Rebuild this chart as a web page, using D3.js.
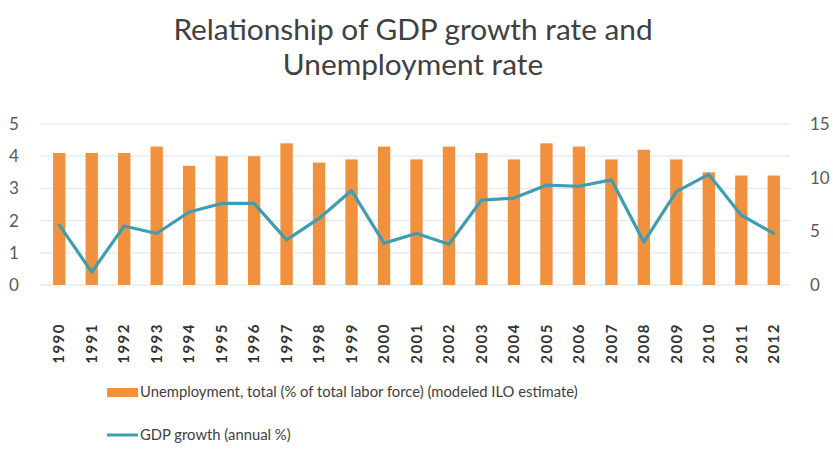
<!DOCTYPE html>
<html>
<head>
<meta charset="utf-8">
<script src="https://cdn.jsdelivr.net/npm/d3@7/dist/d3.min.js"></script>
<style>
  html, body { margin: 0; padding: 0; background: #fff; }
  svg { display: block; }
</style>
</head>
<body>
<script>
// Years on the category axis
const years = ["1990","1991","1992","1993","1994","1995","1996","1997","1998","1999","2000",
  "2001","2002","2003","2004","2005","2006","2007","2008","2009","2010","2011","2012"];
// Unemployment, total (% of total labor force) — left axis
const unemployment = [4.1,4.1,4.1,4.3,3.7,4.0,4.0,4.4,3.8,3.9,4.3,
  3.9,4.3,4.1,3.9,4.4,4.3,3.9,4.2,3.9,3.5,3.4,3.4];
// GDP growth (annual %) — right axis
const gdpGrowth = [5.6,1.2,5.5,4.8,6.8,7.6,7.6,4.2,6.2,8.8,3.9,
  4.8,3.8,7.9,8.1,9.3,9.2,9.8,4.0,8.7,10.3,6.5,4.8];
const leftTicks = [0,1,2,3,4,5];
const rightTicks = [0,5,10,15];
const titleLines = ["Relationship of GDP growth rate and", "Unemployment rate"];
const legendLabels = ["Unemployment, total (% of total labor force) (modeled ILO estimate)", "GDP growth (annual %)"];

const W = 833, H = 450;
const plot = { left: 43, right: 790, top: 124, bottom: 285 };
const barColor = "#F2913D", lineColor = "#3E9DB3", textColor = "#595959";
const font = "Lato, 'Open Sans', sans-serif";

const svg = d3.select("body").append("svg").attr("width", W).attr("height", H);

const x = d3.scaleBand().domain(years).range([plot.left, plot.right]).paddingInner(0.62).paddingOuter(0.31);
const yL = d3.scaleLinear().domain([0, 5]).range([plot.bottom, plot.top]);
const yR = d3.scaleLinear().domain([0, 15]).range([plot.bottom, plot.top]);

// Title
svg.append("g").selectAll("text").data(titleLines).join("text")
  .attr("x", 413).attr("y", (d, i) => 40 + i * 35)
  .attr("text-anchor", "middle")
  .attr("font-family", font).attr("font-size", 29.8)
  .attr("fill", "#404040").text(d => d);

// Horizontal gridlines
svg.append("g").selectAll("line").data(leftTicks).join("line")
  .attr("x1", plot.left - 3).attr("x2", plot.right)
  .attr("y1", d => yL(d)).attr("y2", d => yL(d))
  .attr("stroke", d => d === 0 ? "#d6e4ef" : "#e3e9ef").attr("stroke-width", 1.2);

// Left axis
const leftAxis = svg.append("g").attr("transform", `translate(14,0)`)
  .call(d3.axisLeft(yL).tickValues(leftTicks).tickFormat(d3.format("d")).tickSize(0).tickPadding(0));
leftAxis.select(".domain").remove();
leftAxis.selectAll("text").attr("font-family", font).attr("font-size", 17).attr("fill", textColor)
  .attr("text-anchor", "middle");

// Right axis
const rightAxis = svg.append("g").attr("transform", `translate(${plot.right + 20},0)`)
  .call(d3.axisRight(yR).tickValues(rightTicks).tickSize(0).tickPadding(0));
rightAxis.select(".domain").remove();
rightAxis.selectAll("text").attr("font-family", font).attr("font-size", 17).attr("fill", textColor);

// Bars
svg.append("g").selectAll("rect").data(years).join("rect")
  .attr("x", d => x(d)).attr("width", x.bandwidth())
  .attr("y", (d, i) => yL(unemployment[i]))
  .attr("height", (d, i) => yL(0) - yL(unemployment[i]))
  .attr("fill", barColor);

// GDP growth line
const line = d3.line().x((d, i) => x(years[i]) + x.bandwidth() / 2).y(d => yR(d));
svg.append("path").datum(gdpGrowth)
  .attr("d", line).attr("fill", "none")
  .attr("stroke", lineColor).attr("stroke-width", 3.2)
  .attr("stroke-linejoin", "round").attr("stroke-linecap", "round");

// Category labels, rotated
const xAxis = svg.append("g").attr("transform", `translate(0,${plot.bottom})`)
  .call(d3.axisBottom(x).tickSize(0).tickPadding(0));
xAxis.select(".domain").remove();
xAxis.selectAll("text")
  .attr("font-family", font).attr("font-size", 15).attr("font-weight", "bold")
  .attr("fill", "#333").attr("letter-spacing", 1.5)
  .attr("transform", "rotate(-90)")
  .attr("text-anchor", "end").attr("dy", "0.35em")
  .attr("x", -38).attr("y", 0);

// Legend
const legend = svg.append("g");
legend.append("rect").attr("x", 107).attr("y", 388).attr("width", 31).attr("height", 9).attr("fill", barColor);
legend.append("line").attr("x1", 107).attr("x2", 138).attr("y1", 435).attr("y2", 435)
  .attr("stroke", lineColor).attr("stroke-width", 3);
legend.selectAll("text").data(legendLabels).join("text")
  .attr("x", 140).attr("y", (d, i) => 392 + i * 43)
  .attr("dy", "0.35em")
  .attr("font-family", font).attr("font-size", 14.8)
  .attr("fill", "#404040").text(d => d);
</script>
</body>
</html>
